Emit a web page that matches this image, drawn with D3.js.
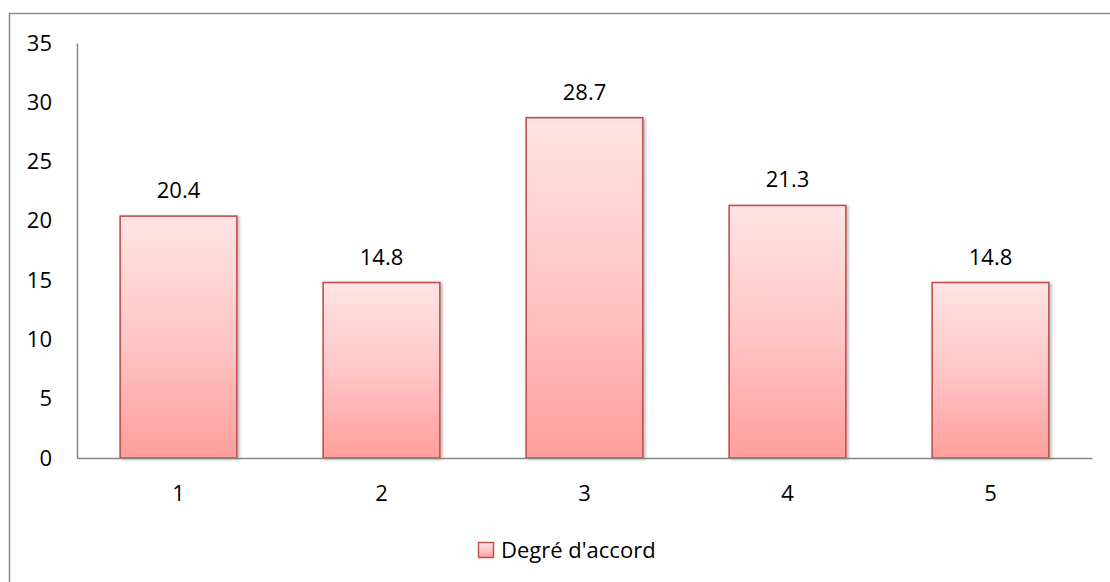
<!DOCTYPE html>
<html>
<head>
<meta charset="utf-8">
<script src="https://cdn.jsdelivr.net/npm/d3@7"></script>
<style>
  html, body { margin: 0; padding: 0; background: #fff; }
  svg { display: block; font-family: "Open Sans", Lato, sans-serif; }
</style>
</head>
<body>
<svg id="chart" width="1110" height="582"></svg>
<script>
// Chart data
const categories = ["1", "2", "3", "4", "5"];
const values = [20.4, 14.8, 28.7, 21.3, 14.8];
const yTicks = [0, 5, 10, 15, 20, 25, 30, 35];
const seriesName = "Degré d'accord";

const svg = d3.select("#chart");
const W = 1110, H = 582;
const plot = { left: 77, right: 1092, top: 43, bottom: 458 };
const FONT = "'Open Sans', Lato, sans-serif";
const FS = 22;

// Outer frame
svg.append("rect")
  .attr("x", 9.5).attr("y", 13.5)
  .attr("width", W + 10).attr("height", H + 10)
  .attr("fill", "#fff").attr("stroke", "#8c8c8c").attr("stroke-width", 1.5);

const defs = svg.append("defs");
const grad = defs.append("linearGradient")
  .attr("id", "barFill").attr("x1", 0).attr("y1", 0).attr("x2", 0).attr("y2", 1);
grad.append("stop").attr("offset", "0%").attr("stop-color", "#ffe4e4");
grad.append("stop").attr("offset", "55%").attr("stop-color", "#ffc3c2");
grad.append("stop").attr("offset", "100%").attr("stop-color", "#ff9e9b");

const shadow = defs.append("filter").attr("id", "shadow")
  .attr("x", "-10%").attr("y", "-10%").attr("width", "130%").attr("height", "130%");
shadow.append("feDropShadow").attr("dx", 2).attr("dy", 1).attr("stdDeviation", 1.5)
  .attr("flood-color", "#000").attr("flood-opacity", 0.25);

const x = d3.scaleBand().domain(categories).range([plot.left, plot.right])
  .paddingInner(0.425).paddingOuter(0.2125);
const y = d3.scaleLinear().domain([0, 35]).range([plot.bottom, plot.top]);

// Bars
svg.append("g").selectAll("rect")
  .data(values)
  .join("rect")
  .attr("x", (d, i) => x(categories[i]))
  .attr("y", d => y(d))
  .attr("width", x.bandwidth())
  .attr("height", d => y(0) - y(d))
  .attr("fill", "url(#barFill)")
  .attr("stroke", "#c0504d")
  .attr("stroke-width", 1.6)
  .attr("filter", "url(#shadow)");

// Value labels
svg.append("g").selectAll("text")
  .data(values)
  .join("text")
  .attr("x", (d, i) => x(categories[i]) + x.bandwidth() / 2)
  .attr("y", d => y(d) - 18)
  .attr("text-anchor", "middle")
  .attr("font-size", FS)
  .attr("fill", "#000")
  .text(d => d.toFixed(1));

// Y axis
const yAxis = d3.axisLeft(y).tickValues(yTicks).tickSize(0).tickPadding(25);
const gy = svg.append("g").attr("transform", `translate(${plot.left},0)`).call(yAxis);
gy.select(".domain").attr("stroke", "#868686").attr("stroke-width", 1.5);
gy.selectAll("text").attr("font-size", FS).attr("fill", "#000").attr("font-family", FONT);

// X axis
const xAxis = d3.axisBottom(x).tickSize(0).tickPadding(27);
const gx = svg.append("g").attr("transform", `translate(0,${plot.bottom})`).call(xAxis);
gx.select(".domain").attr("stroke", "#868686").attr("stroke-width", 1.5);
gx.selectAll("text").attr("font-size", FS).attr("fill", "#000").attr("font-family", FONT);

// Legend
const lg = svg.append("g").attr("transform", "translate(478,542)");
lg.append("rect").attr("x", 0.5).attr("y", 0.5).attr("width", 15).attr("height", 15)
  .attr("fill", "url(#barFill)").attr("stroke", "#c0504d").attr("stroke-width", 1.5);
lg.append("text").attr("x", 23).attr("y", 16)
  .attr("font-size", FS).attr("fill", "#000").text(seriesName);
</script>
</body>
</html>
